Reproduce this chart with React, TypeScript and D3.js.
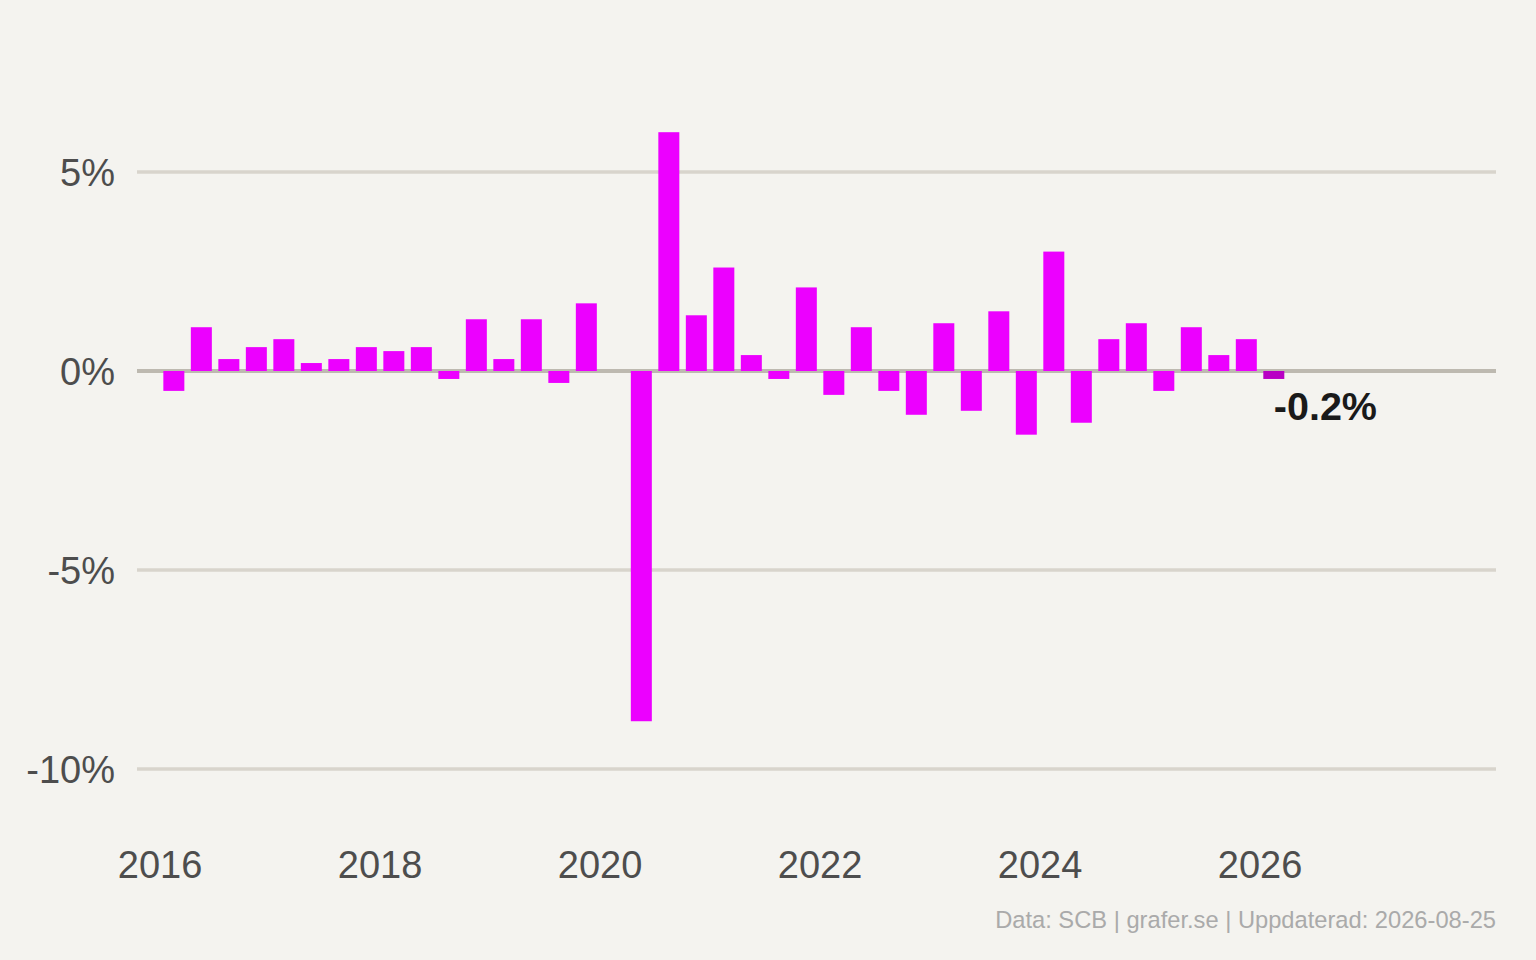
import { useRef, useEffect } from 'react'
import * as d3 from 'd3'

// quarterly change in percent, 2016 Q1 .. 2026 Q1
const years = [2016, 2017, 2018, 2019, 2020, 2021, 2022, 2023, 2024, 2025, 2026]
const values = [
  -0.5, 1.1, 0.3, 0.6,
  0.8, 0.2, 0.3, 0.6,
  0.5, 0.6, -0.2, 1.3,
  0.3, 1.3, -0.3, 1.7,
  0.0, -8.8, 6.0, 1.4,
  2.6, 0.4, -0.2, 2.1,
  -0.6, 1.1, -0.5, -1.1,
  1.2, -1.0, 1.5, -1.6,
  3.0, -1.3, 0.8, 1.2,
  -0.5, 1.1, 0.4, 0.8,
  -0.2,
]
const yTicks = [5, 0, -5, -10]
const xTicks = [2016, 2018, 2020, 2022, 2024, 2026]
const caption = 'Data: SCB | grafer.se | Uppdaterad: 2026-08-25'

const data = values.map((v, i) => ({
  year: years[Math.floor(i / 4)],
  q: (i % 4) + 1,
  t: years[Math.floor(i / 4)] + ((i % 4) + 0.5) / 4,
  v,
}))

const FONT = '"Liberation Sans", Arial, Helvetica, sans-serif'

const App = () => {
  const ref = useRef<SVGSVGElement>(null)

  useEffect(() => {
    document.body.style.margin = '0'
    if (!ref.current) return
    const svg = d3.select(ref.current)
    svg.selectAll('*').remove()
    const width = 1536
    const height = 960

    svg.append('rect').attr('width', width).attr('height', height).attr('fill', '#f4f3ef')

    const x = d3.scaleLinear().domain([2015.79, 2028.145]).range([137, 1496])
    const y = d3.scaleLinear().domain([-10, 5]).range([769, 172])
    const barW = 21

    // grid
    svg.append('g')
      .selectAll('line')
      .data(yTicks)
      .enter()
      .append('line')
      .attr('x1', x.range()[0])
      .attr('x2', x.range()[1])
      .attr('y1', d => y(d))
      .attr('y2', d => y(d))
      .attr('stroke', d => (d === 0 ? '#bdb9b0' : '#d8d4cc'))
      .attr('stroke-width', d => (d === 0 ? 4 : 3.5))

    // y labels
    svg.append('g')
      .selectAll('text')
      .data(yTicks)
      .enter()
      .append('text')
      .attr('x', 115)
      .attr('y', d => y(d) + 13.5)
      .attr('text-anchor', 'end')
      .attr('font-family', FONT)
      .attr('font-size', 38)
      .attr('fill', '#4d4d4d')
      .text(d => `${d}%`)

    // x labels
    svg.append('g')
      .selectAll('text')
      .data(xTicks)
      .enter()
      .append('text')
      .attr('x', d => x(d))
      .attr('y', 878)
      .attr('text-anchor', 'middle')
      .attr('font-family', FONT)
      .attr('font-size', 38)
      .attr('fill', '#4d4d4d')
      .text(d => d)

    // bars
    const last = data.length - 1
    svg.append('g')
      .selectAll('rect')
      .data(data.filter(d => d.v !== 0))
      .enter()
      .append('rect')
      .attr('x', d => x(d.t) - barW / 2)
      .attr('y', d => y(Math.max(0, d.v)))
      .attr('width', barW)
      .attr('height', d => Math.abs(y(d.v) - y(0)))
      .attr('fill', d => (d === data[last] ? '#b800c4' : '#ec00ff'))

    // last value label
    const lastD = data[last]
    svg.append('text')
      .attr('x', x(lastD.t))
      .attr('y', y(lastD.v) + 41)
      .attr('font-family', FONT)
      .attr('font-size', 39.5)
      .attr('font-weight', 'bold')
      .attr('fill', '#1a1a1a')
      .text(`${lastD.v.toFixed(1)}%`)

    // caption
    svg.append('text')
      .attr('x', 1496)
      .attr('y', 928)
      .attr('text-anchor', 'end')
      .attr('font-family', FONT)
      .attr('font-size', 23.7)
      .attr('fill', '#aaaaaa')
      .text(caption)
  }, [])

  return <svg ref={ref} width={1536} height={960} style={{ display: 'block' }} />
}

export default App
